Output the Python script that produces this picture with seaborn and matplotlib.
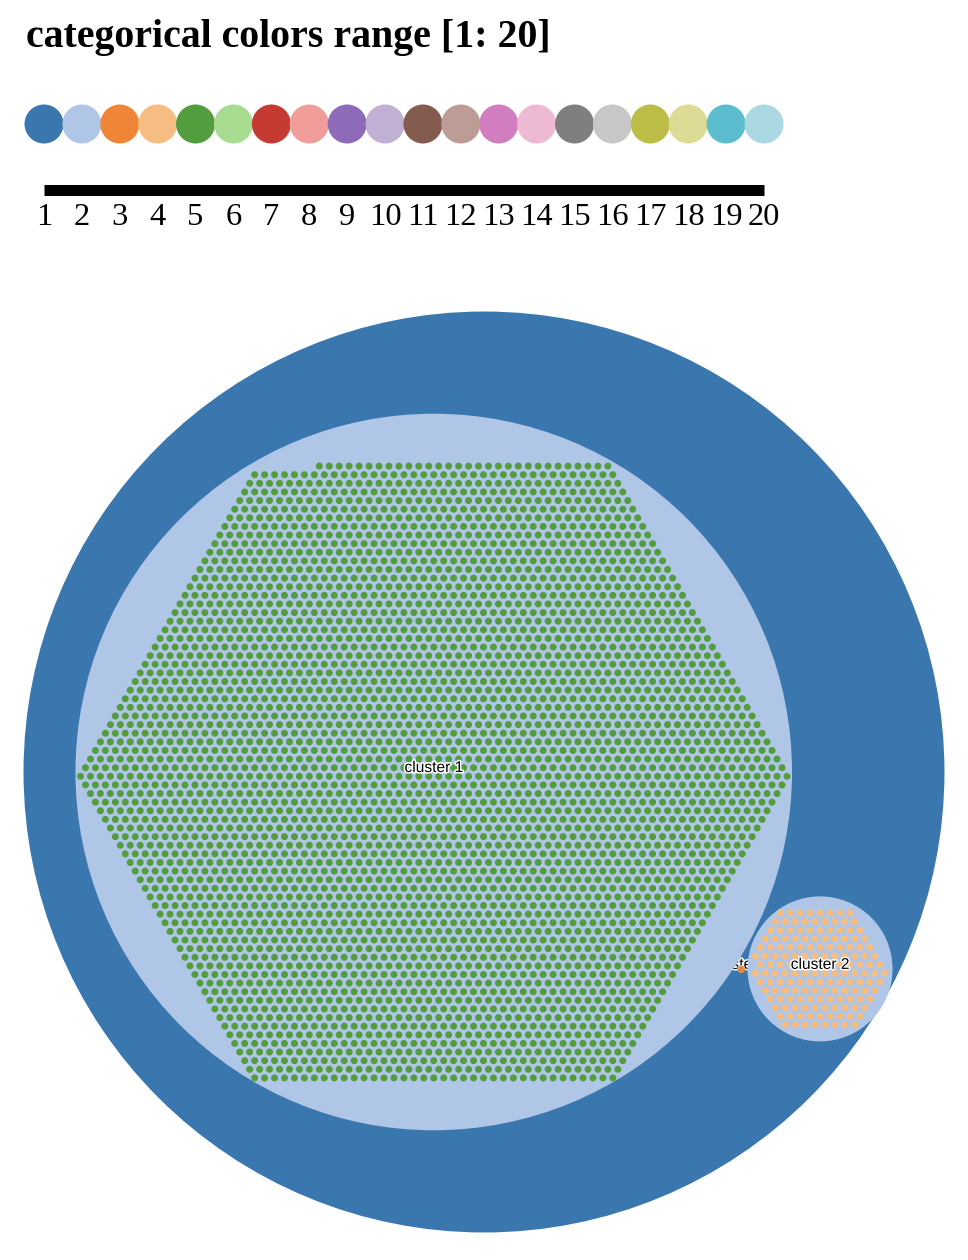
import numpy as np
import pandas as pd
import matplotlib.pyplot as plt
import seaborn as sns
from matplotlib.patches import Circle
import matplotlib.patheffects as pe

# colour range shown at the top (category20 as it appears on screen)
palette = ['#3a77af', '#b0c6e6', '#ef8637', '#f5bd82', '#539d3e', '#a7dc91',
           '#c53a32', '#f09c98', '#8d6bb8', '#c2b0d4', '#845b4f', '#bd9c95',
           '#d27dbf', '#eeb9d2', '#7f7f7f', '#c7c7c7', '#bcbd46', '#dbdb95',
           '#5abccc', '#aad9e3']
ticks = list(range(1, 21))

# clusters, in pack order
cluster_names = ['cluster 3', 'cluster 2', 'cluster 1']
cluster_sizes = [1, 153, 3882]
node_color = [2, 3, 4]      # index into palette
group_color = 1
root_color = 0

STEP = 9.95      # node spacing on the hex grid
NODE_R = 3.8     # node radius used for the enclosing circles (px)
DOT_D = 7.0      # drawn dot diameter (px)
PAD = 1.4        # pack padding


def hex_spiral(n, step):
    # hex grid, filled layer by layer starting at bottom-right corner
    h = step * np.sqrt(3) / 2
    dirs = [(step / 2, -h), (-step / 2, -h), (-step, 0),
            (-step / 2, h), (step / 2, h), (step, 0)]
    pts = [(0.0, 0.0)]
    layer = 1
    while len(pts) < n:
        x, y = layer * step / 2, layer * h
        for dx, dy in dirs:
            for _ in range(layer):
                x += dx
                y += dy
                pts.append((x, y))
        layer += 1
    return np.array(pts[:n])


def enclose(xs, ys, rs):
    xs, ys, rs = map(np.asarray, (xs, ys, rs))
    cx = (np.min(xs - rs) + np.max(xs + rs)) / 2
    cy = (np.min(ys - rs) + np.max(ys + rs)) / 2
    r = np.max(np.hypot(xs - cx, ys - cy) + rs)
    return cx, cy, r


# node layout inside each cluster
local = []
radii = []
for n in cluster_sizes:
    p = hex_spiral(n, STEP)
    cx, cy, r = enclose(p[:, 0], p[:, 1], np.full(len(p), NODE_R))
    local.append(p - [cx, cy])
    radii.append(r)

# pack the three clusters: first two side by side, third touching both
r3, r2, r1 = radii
ax_, bx_ = -(r2 + PAD), r3 + PAD
d = bx_ - ax_
da, db = r3 + r1 + 2 * PAD, r2 + r1 + 2 * PAD
t = (d ** 2 + da ** 2 - db ** 2) / (2 * d)
centers = [(ax_, 0.0), (bx_, 0.0), (ax_ + t, -np.sqrt(da ** 2 - t ** 2))]
rx, ry, R = enclose([c[0] for c in centers], [c[1] for c in centers], radii)
origin = (484, 772)
centers = [(c[0] - rx + origin[0], c[1] - ry + origin[1]) for c in centers]

rows = []
for name, (cx, cy), p in zip(cluster_names, centers, local):
    for x, y in p:
        rows.append((name, cx + x, cy + y))
nodes = pd.DataFrame(rows, columns=['cluster', 'x', 'y'])

sns.set_theme(style='white')
plt.rcParams['font.family'] = ['Liberation Sans', 'DejaVu Sans']
plt.rcParams['text.color'] = 'black'

fig = plt.figure(figsize=(9.68, 12.6), dpi=100)
ax = fig.add_axes([0, 0, 1, 1])
ax.set_xlim(0, 968)
ax.set_ylim(1260, 0)
ax.set_aspect('equal')
ax.axis('off')

ax.add_patch(Circle(origin, R - 1.5, color=palette[root_color], lw=0, zorder=1))
halo = [pe.withStroke(linewidth=2.2, foreground='white')]
for i, (name, (cx, cy), r) in enumerate(zip(cluster_names, centers, radii)):
    small = cluster_sizes[i] == 1
    ax.add_patch(Circle((cx, cy), r, color=palette[group_color], lw=0,
                        zorder=3 if small else 4))
    ax.text(cx, cy, name, ha='center', va='baseline', fontsize=11.2,
            color='black', path_effects=halo, zorder=2 if small else 6)

small_nodes = nodes[nodes['cluster'] == 'cluster 3']
big_nodes = nodes[nodes['cluster'] != 'cluster 3']
pal = {n: palette[c] for n, c in zip(cluster_names, node_color)}
dot_s = (DOT_D * 0.72) ** 2
sns.scatterplot(data=small_nodes, x='x', y='y', hue='cluster', palette=pal,
                s=dot_s, linewidth=0, legend=False, ax=ax, zorder=3.5)
sns.scatterplot(data=big_nodes, x='x', y='y', hue='cluster', palette=pal,
                s=dot_s, linewidth=0, legend=False, ax=ax, zorder=5)
ax.set_xlim(0, 968)
ax.set_ylim(1260, 0)

# title
fig.text(26 / 968, 1 - 46.7 / 1260, 'categorical colors range [1: 20]',
         fontfamily='Liberation Serif', fontweight='bold', fontsize=28.7,
         color='black', va='baseline', ha='left')

# colour strip with its axis
lax = fig.add_axes([44 / 968, 1 - 189.8 / 1260, 720 / 968, (189.8 - 124) / 1260])
lax.patch.set_alpha(0)
sns.scatterplot(x=ticks, y=[1] * len(ticks), hue=[str(t) for t in ticks],
                palette=palette, s=(39 * 0.72) ** 2, linewidth=0, legend=False,
                ax=lax, clip_on=False, zorder=3)
lax.set_xlim(1, 20)
lax.set_ylim(0, 1)
for side in ['left', 'right', 'top']:
    lax.spines[side].set_visible(False)
lax.spines['bottom'].set_linewidth(11 * 0.72)
lax.spines['bottom'].set_color('black')
lax.spines['bottom'].set_capstyle('butt')
lax.set_yticks([])
lax.set_xticks(ticks)
lax.set_xticklabels([str(t) for t in ticks], fontfamily='Liberation Serif',
                    fontsize=23.4, color='black')
lax.tick_params(axis='x', length=0, pad=9.4)
lax.set_xlabel('')
lax.set_ylabel('')

fig.savefig('out.png', dpi=100)
